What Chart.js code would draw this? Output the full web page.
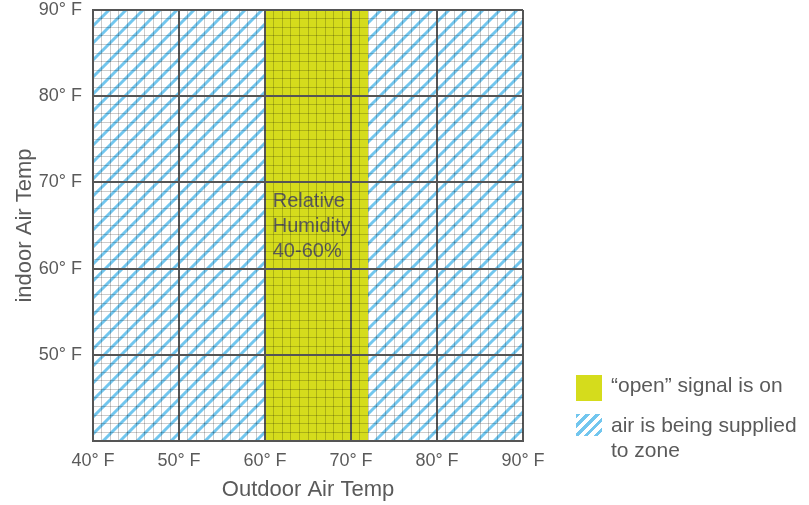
<!DOCTYPE html>
<html>
<head>
<meta charset="utf-8">
<script src="https://cdn.jsdelivr.net/npm/chart.js@4.4.0/dist/chart.umd.min.js"></script>
<style>
  html, body { margin: 0; padding: 0; background: #fff; }
  #wrap { position: relative; width: 809px; height: 505px; }
  .legend { position: absolute; font-family: "Liberation Sans", Arial, sans-serif; font-size: 21px; color: #5a5a5a; }
  .sw { position: absolute; }
</style>
</head>
<body>
<div id="wrap">
  <canvas id="chart" width="809" height="505"></canvas>
  <div class="sw" style="left:576px; top:375px; width:26px; height:26px; background:#d5dc1c;"></div>
  <div class="legend" style="left:611px; top:373px;">“open” signal is on</div>
  <div class="sw" style="left:576px; top:414px; width:26px; height:22px;
       background: repeating-linear-gradient(135deg, #72c6ee 0 3px, transparent 3px 7px);"></div>
  <div class="legend" style="left:611px; top:412px; line-height:25px;">air is being supplied<br>to zone</div>
</div>
<script>
// Données du graphique
const tempRange = [40, 90];          // échelle des deux axes (° F)
const xTickValues = [40, 50, 60, 70, 80, 90];
const yTickValues = [50, 60, 70, 80, 90];
const bandRange = [60, 72];          // zone "open" (humidité relative 40-60%)
const bandLabel = ['Relative', 'Humidity', '40-60%'];
const bandLabelPos = [60.9, 67.8];   // position du texte (x, y en ° F)

const tickText = v => v + '° F';
const fontFamily = '"Liberation Sans", Arial, sans-serif';

// Motif hachuré bleu
function makeHatch() {
    const s = 17;
    const c = document.createElement('canvas');
    c.width = s; c.height = s;
    const g = c.getContext('2d');
    g.strokeStyle = '#72c6ee';
    g.lineWidth = 3;
    g.beginPath();
    g.moveTo(0, s); g.lineTo(s, 0);
    g.moveTo(-s / 2, s / 2); g.lineTo(s / 2, -s / 2);
    g.moveTo(s / 2, s * 1.5); g.lineTo(s * 1.5, s / 2);
    g.stroke();
    return g.createPattern(c, 'repeat');
}

const hatch = makeHatch();

// Texte au milieu de la bande jaune
const bandText = {
    id: 'bandText',
    afterDatasetsDraw(chart) {
        const { ctx, scales } = chart;
        const x = scales.x.getPixelForValue(bandLabelPos[0]);
        const y = scales.y.getPixelForValue(bandLabelPos[1]);
        ctx.save();
        ctx.font = '20px ' + fontFamily;
        ctx.fillStyle = '#5a5a5a';
        ctx.textAlign = 'left';
        ctx.textBaseline = 'middle';
        bandLabel.forEach((t, i) => ctx.fillText(t, x, y + i * 25));
        ctx.restore();
    }
};

const gridColor = ctx => ctx.tick && ctx.tick.value % 10 === 0 ? '#555' : 'rgba(0, 0, 0, 0.2)';
const gridWidth = ctx => ctx.tick && ctx.tick.value % 10 === 0 ? 2 : 1;

// une graduation par degré (grille fine), étiquettes tous les 10°
const everyDegree = s => {
    s.ticks = [];
    for (let v = tempRange[0]; v <= tempRange[1]; v++) s.ticks.push({ value: v });
};

new Chart(document.getElementById('chart'), {
    type: 'line',
    data: {
        datasets: [{
            label: '"open" signal is on',
            data: [{ x: bandRange[0], y: tempRange[1] }, { x: bandRange[1], y: tempRange[1] }],
            backgroundColor: '#d5dc1c',
            borderWidth: 0,
            pointRadius: 0,
            fill: 'start'
        }, {
            label: 'air is being supplied to zone',
            data: [{ x: tempRange[0], y: tempRange[1] }, { x: tempRange[1], y: tempRange[1] }],
            backgroundColor: hatch,
            borderWidth: 0,
            pointRadius: 0,
            fill: 'start'
        }]
    },
    options: {
        responsive: false,
        animation: false,
        layout: { padding: { left: 0, top: 10, right: 286, bottom: 0 } },
        plugins: {
            legend: { display: false },
            tooltip: { enabled: false }
        },
        scales: {
            x: {
                type: 'linear',
                min: tempRange[0],
                max: tempRange[1],
                afterFit: s => { s.height = 64; },
                afterBuildTicks: everyDegree,
                ticks: {
                    autoSkip: false,
                    maxRotation: 0,
                    padding: 9,
                    color: '#5a5a5a',
                    font: { family: fontFamily, size: 18 },
                    callback: v => xTickValues.includes(v) ? tickText(v) : ''
                },
                grid: { color: gridColor, lineWidth: gridWidth, drawTicks: false, z: 1 },
                border: { color: '#555', width: 2, z: 1 },
                title: {
                    display: true,
                    text: 'Outdoor Air Temp',
                    color: '#5a5a5a',
                    font: { family: fontFamily, size: 22 },
                    padding: { top: 0, bottom: 2 }
                }
            },
            y: {
                type: 'linear',
                min: tempRange[0],
                max: tempRange[1],
                afterFit: s => {
                    s.width = 93;
                    s.paddingTop = 0;
                    s.paddingBottom = 0;
                },
                afterBuildTicks: everyDegree,
                ticks: {
                    autoSkip: false,
                    padding: 11,
                    color: '#5a5a5a',
                    font: { family: fontFamily, size: 18 },
                    callback: v => yTickValues.includes(v) ? tickText(v) : ''
                },
                grid: { color: gridColor, lineWidth: gridWidth, drawTicks: false, z: 1 },
                border: { color: '#555', width: 2, z: 1 },
                title: {
                    display: true,
                    text: 'indoor Air Temp',
                    color: '#5a5a5a',
                    font: { family: fontFamily, size: 22 },
                    padding: { top: 12, bottom: 0 }
                }
            }
        }
    },
    plugins: [bandText]
});
</script>
</body>
</html>
